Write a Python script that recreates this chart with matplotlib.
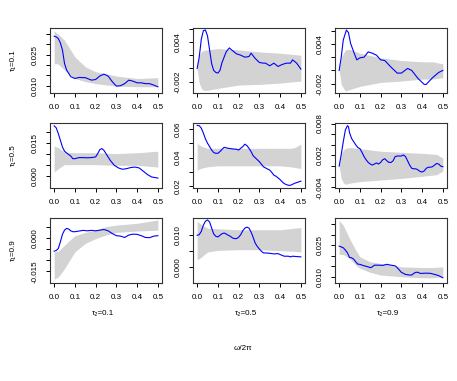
import matplotlib
matplotlib.use("Agg")
import matplotlib.pyplot as plt

plt.rcParams['font.family'] = ['Liberation Sans', 'DejaVu Sans']

# ---------------- data ----------------
row_labels = ["τ₁=0.1", "τ₁=0.5", "τ₁=0.9"]
col_labels = ["τ₂=0.1", "τ₂=0.5", "τ₂=0.9"]
xlabel_text = "ω/2π"
x_ticks = [0.0, 0.1, 0.2, 0.3, 0.4, 0.5]
x_ticklabels = ["0.0", "0.1", "0.2", "0.3", "0.4", "0.5"]

# panel (1,1)
line_x_11 = [0, .01, .02, .03, .04, .05, .06, .08, .10, .12, .15, .18, .20, .22, .24, .26, .28, .30, .32, .34, .36, .38, .40, .42, .44, .46, .48, .50]
line_y_11 = [.0340, .0337, .0329, .0308, .0273, .0208, .0176, .0144, .0135, .0140, .0139, .0127, .0130, .0147, .0156, .0147, .0120, .0098, .0100, .0110, .0127, .0122, .0114, .0114, .0110, .0110, .0103, .0095]
band_x_11 = [0, .02, .05, .1, .15, .2, .3, .4, .5]
band_hi_11 = [.0366, .0350, .0320, .0240, .0192, .0168, .0147, .0135, .0139]
band_lo_11 = [.0208, .0205, .0176, .0135, .0120, .0110, .0098, .0095, .0095]
yticks_11 = [0.010, 0.015, 0.020, 0.025, 0.030, 0.035]
ylabels_11 = ["0.010", "", "", "0.025", "", ""]
ylim_11 = (0.00646, 0.0380)

# panel (1,2)
line_x_12 = [0, .01, .02, .03, .04, .05, .06, .07, .08, .09, .10, .11, .12, .14, .155, .17, .19, .21, .23, .25, .26, .28, .30, .32, .33, .35, .37, .39, .41, .43, .45, .46, .48, .50]
line_y_12 = [0, .0017, .0044, .0057, .0058, .0049, .0028, .0007, -.0003, -.0006, -.0007, -.0003, .0009, .0025, .0031, .0027, .0022, .0020, .0017, .0018, .0023, .0015, .0009, .0008, .0008, .0004, .0008, .0003, .0006, .0008, .0008, .0013, .0008, -.0001]
band_x_12 = [0, .01, .02, .03, .05, .1, .2, .3, .4, .5]
band_hi_12 = [.0002, .0020, .0025, .0027, .0028, .0030, .0028, .0025, .0023, .0020]
band_lo_12 = [-.0001, -.0022, -.0030, -.0033, -.0033, -.0030, -.0025, -.0024, -.0022, -.0019]
yticks_12 = [-0.002, 0.0, 0.002, 0.004, 0.006]
ylabels_12 = ["-0.002", "", "", "0.004", ""]
ylim_12 = (-0.0037, 0.0061)

# panel (1,3)
line_x_13 = [0, .01, .02, .035, .045, .055, .07, .085, .10, .12, .14, .16, .18, .20, .22, .25, .28, .30, .33, .35, .38, .41, .42, .45, .48, .50]
line_y_13 = [0, .0020, .0046, .0061, .0057, .0041, .0028, .0016, .0019, .0020, .0028, .0026, .0023, .0016, .0015, .0005, -.0004, -.0004, .0003, .0000, -.0012, -.0021, -.0021, -.0011, -.0003, .0000]
band_x_13 = [0, .01, .03, .05, .1, .2, .3, .4, .45, .5]
band_hi_13 = [0, .0020, .0031, .0032, .0026, .0019, .0015, .0013, .0013, .0010]
band_lo_13 = [0, -.0021, -.0031, -.0029, -.0024, -.0018, -.0016, -.0013, -.0013, -.0011]
yticks_13 = [-0.002, 0.0, 0.002, 0.004, 0.006]
ylabels_13 = ["-0.002", "", "", "0.004", ""]
ylim_13 = (-0.0034, 0.0064)

# panel (2,1)
line_x_21 = [0, .01, .02, .03, .04, .05, .06, .08, .09, .10, .12, .14, .16, .18, .20, .21, .22, .23, .24, .25, .27, .29, .31, .33, .35, .37, .39, .41, .43, .45, .47, .50]
line_y_21 = [.0229, .0220, .0194, .0164, .0133, .0114, .0106, .0092, .0080, .0080, .0085, .0085, .0084, .0085, .0088, .0103, .0121, .0126, .0118, .0103, .0073, .0050, .0038, .0032, .0035, .0040, .0042, .0038, .0023, .0008, -.0003, -.0008]
band_x_21 = [0, .02, .05, .1, .2, .3, .4, .5]
band_hi_21 = [.0138, .0130, .0110, .0107, .0107, .0103, .0107, .0114]
band_lo_21 = [.0020, .0035, .0053, .0053, .0053, .0050, .0050, .0042]
yticks_21 = [0.0, 0.005, 0.010, 0.015, 0.020]
ylabels_21 = ["0.000", "", "", "0.015", ""]
ylim_21 = (-0.0053, 0.0242)

# panel (2,2)
line_x_22 = [0, .01, .02, .03, .04, .05, .06, .07, .08, .09, .10, .11, .12, .13, .15, .17, .19, .20, .21, .22, .23, .24, .25, .26, .27, .28, .30, .32, .34, .35, .36, .37, .38, .39, .40, .41, .42, .43, .44, .45, .46, .47, .48, .50]
line_y_22 = [.0626, .0624, .0607, .0572, .0531, .0501, .0477, .0453, .0435, .0430, .0430, .0442, .0458, .0472, .0465, .0461, .0458, .0453, .0465, .0477, .0494, .0484, .0465, .0442, .0413, .0399, .0371, .0335, .0319, .0312, .0295, .0276, .0269, .0257, .0245, .0229, .0217, .0210, .0205, .0205, .0212, .0219, .0224, .0234]
band_x_22 = [0, .02, .05, .1, .2, .3, .4, .45, .47, .5]
band_hi_22 = [.0500, .0480, .0465, .0465, .0465, .0465, .0465, .0465, .0470, .0494]
band_lo_22 = [.0312, .0325, .0335, .0342, .0342, .0342, .0342, .0335, .0330, .0323]
yticks_22 = [0.02, 0.03, 0.04, 0.05, 0.06]
ylabels_22 = ["0.02", "", "0.04", "", "0.06"]
ylim_22 = (0.0186, 0.0643)

# panel (2,3)
line_x_23 = [0, .01, .02, .03, .04, .045, .05, .06, .07, .08, .09, .10, .11, .12, .13, .14, .15, .16, .17, .18, .19, .20, .21, .22, .23, .24, .25, .26, .27, .28, .29, .30, .31, .32, .33, .34, .35, .36, .37, .38, .39, .40, .41, .42, .43, .44, .45, .46, .47, .48, .49, .50]
line_y_23 = [0, .0022, .0046, .0068, .0076, .0074, .0063, .0052, .0046, .0040, .0035, .0033, .0026, .0018, .0012, .0007, .0004, .0002, .0004, .0006, .0004, .0007, .0012, .0014, .0010, .0007, .0007, .0010, .0018, .0019, .0019, .0019, .0021, .0018, .0010, .0002, -.0004, -.0005, -.0005, -.0007, -.0010, -.0011, -.0009, -.0004, -.0002, -.0002, -.0001, .0002, .0005, .0004, .0000, -.0001]
band_x_23 = [0, .01, .02, .03, .05, .1, .2, .3, .4, .47, .5]
band_hi_23 = [0, .0024, .0030, .0033, .0035, .0033, .0028, .0026, .0024, .0022, .0015]
band_lo_23 = [0, -.0023, -.0031, -.0034, -.0032, -.0029, -.0026, -.0023, -.0019, -.0016, -.0009]
yticks_23 = [-0.004, -0.002, 0.0, 0.002, 0.004, 0.006, 0.008]
ylabels_23 = ["-0.004", "", "", "0.002", "", "", "0.008"]
ylim_23 = (-0.0041, 0.0081)

# panel (3,1)
line_x_31 = [0, .01, .02, .03, .04, .05, .06, .07, .08, .09, .10, .12, .14, .16, .18, .20, .22, .24, .26, .28, .30, .32, .34, .36, .38, .40, .42, .44, .46, .48, .50]
line_y_31 = [-.0059, -.0056, -.0047, -.0017, .0017, .0036, .0044, .0041, .0033, .0029, .0029, .0032, .0035, .0033, .0035, .0033, .0036, .0039, .0033, .0021, .0011, .0009, .0003, .0014, .0018, .0017, .0011, .0003, .0002, .0009, .0011]
band_x_31 = [0, .02, .05, .08, .1, .15, .2, .25, .3, .4, .5]
band_hi_31 = [-.0062, -.0059, -.0032, -.0005, .0011, .0026, .0036, .0052, .0059, .0067, .0082]
band_lo_31 = [-.0186, -.0176, -.0138, -.0092, -.0062, -.0024, -.0002, .0014, .0026, .0032, .0036]
yticks_31 = [-0.015, -0.010, -0.005, 0.0, 0.005]
ylabels_31 = ["-0.015", "", "", "0.000", ""]
ylim_31 = (-0.0203, 0.0091)

# panel (3,2)
line_x_32 = [0, .01, .02, .03, .04, .05, .06, .07, .08, .09, .10, .11, .12, .13, .14, .15, .16, .17, .18, .19, .20, .21, .22, .23, .24, .25, .26, .27, .28, .29, .30, .31, .32, .33, .35, .37, .39, .40, .42, .44, .45, .46, .48, .50]
line_y_32 = [.0098, .0100, .0110, .0129, .0141, .0145, .0139, .0120, .0102, .0095, .0093, .0098, .0103, .0105, .0102, .0098, .0095, .0090, .0088, .0088, .0092, .0100, .0112, .0120, .0123, .0120, .0108, .0092, .0074, .0064, .0056, .0049, .0044, .0044, .0043, .0041, .0042, .0039, .0034, .0034, .0032, .0034, .0033, .0032]
band_x_32 = [0, .02, .05, .1, .2, .3, .4, .47, .5]
band_hi_32 = [.0141, .0131, .0120, .0118, .0115, .0115, .0115, .0120, .0122]
band_lo_32 = [.0023, .0031, .0047, .0052, .0054, .0054, .0051, .0049, .0047]
yticks_32 = [0.0, 0.005, 0.010]
ylabels_32 = ["0.000", "", "0.010"]
ylim_32 = (-0.0048, 0.0151)

# panel (3,3)
line_x_33 = [0, .01, .02, .03, .04, .05, .06, .07, .08, .09, .10, .12, .14, .15, .16, .17, .19, .21, .23, .25, .27, .28, .29, .30, .32, .34, .35, .36, .37, .38, .39, .40, .42, .44, .46, .48, .50]
line_y_33 = [.0246, .0242, .0238, .0227, .0214, .0192, .0190, .0184, .0171, .0160, .0159, .0152, .0147, .0143, .0147, .0155, .0155, .0154, .0159, .0155, .0152, .0143, .0132, .0121, .0111, .0108, .0108, .0116, .0121, .0121, .0116, .0116, .0117, .0116, .0111, .0105, .0095]
band_x_33 = [0, .02, .05, .08, .1, .15, .2, .3, .4, .45, .5]
band_hi_33 = [.0369, .0345, .0282, .0227, .0195, .0171, .0163, .0147, .0144, .0144, .0147]
band_lo_33 = [.0206, .0206, .0187, .0155, .0140, .0121, .0108, .0100, .0095, .0095, .0100]
yticks_33 = [0.010, 0.015, 0.020, 0.025, 0.030, 0.035]
ylabels_33 = ["0.010", "", "", "0.025", "", ""]
ylim_33 = (0.0070, 0.0380)

panels = [
    [(line_x_11, line_y_11, band_x_11, band_lo_11, band_hi_11, yticks_11, ylabels_11, ylim_11),
     (line_x_12, line_y_12, band_x_12, band_lo_12, band_hi_12, yticks_12, ylabels_12, ylim_12),
     (line_x_13, line_y_13, band_x_13, band_lo_13, band_hi_13, yticks_13, ylabels_13, ylim_13)],
    [(line_x_21, line_y_21, band_x_21, band_lo_21, band_hi_21, yticks_21, ylabels_21, ylim_21),
     (line_x_22, line_y_22, band_x_22, band_lo_22, band_hi_22, yticks_22, ylabels_22, ylim_22),
     (line_x_23, line_y_23, band_x_23, band_lo_23, band_hi_23, yticks_23, ylabels_23, ylim_23)],
    [(line_x_31, line_y_31, band_x_31, band_lo_31, band_hi_31, yticks_31, ylabels_31, ylim_31),
     (line_x_32, line_y_32, band_x_32, band_lo_32, band_hi_32, yticks_32, ylabels_32, ylim_32),
     (line_x_33, line_y_33, band_x_33, band_lo_33, band_hi_33, yticks_33, ylabels_33, ylim_33)],
]

# ---------------- layout ----------------
W, H = 457, 381
fig = plt.figure(figsize=(W / 100, H / 100), dpi=100)
fig.patch.set_facecolor("white")

col_left = [50, 193, 335]
row_top = [28, 123, 218]
ax_w, ax_h = 112, 65
fs = 5.8

for i in range(3):
    for j in range(3):
        lx, ly, bx, blo, bhi, yt, yl, ylim = panels[i][j]
        ax = fig.add_axes([col_left[j] / W, 1 - (row_top[i] + ax_h) / H, ax_w / W, ax_h / H])
        ax.fill_between(bx, blo, bhi, color="#d3d3d3", linewidth=0)
        ax.plot(lx, ly, color="#0000ff", linewidth=0.8)
        ax.set_xlim(-0.02, 0.52)
        ax.set_ylim(*ylim)
        ax.set_xticks(x_ticks)
        ax.set_xticklabels(x_ticklabels)
        ax.set_yticks(yt)
        ax.set_yticklabels(yl, rotation=90, va="center")
        ax.tick_params(direction="out", length=3.2, width=0.7, labelsize=fs, pad=5.0, colors="black")
        for s in ax.spines.values():
            s.set_linewidth(0.8)
            s.set_color("#333333")

for i in range(3):
    yc = 1 - (row_top[i] + ax_h / 2) / H
    fig.text(13 / W, yc, row_labels[i], rotation=90, ha="center", va="center", fontsize=fs)

for j in range(3):
    xc = (col_left[j] + ax_w / 2 - 3) / W
    fig.text(xc, 1 - 314 / H, col_labels[j], ha="center", va="center", fontsize=fs)

fig.text(243 / W, 1 - 348 / H, xlabel_text, ha="center", va="center", fontsize=fs)

fig.savefig("out.png", dpi=100)
